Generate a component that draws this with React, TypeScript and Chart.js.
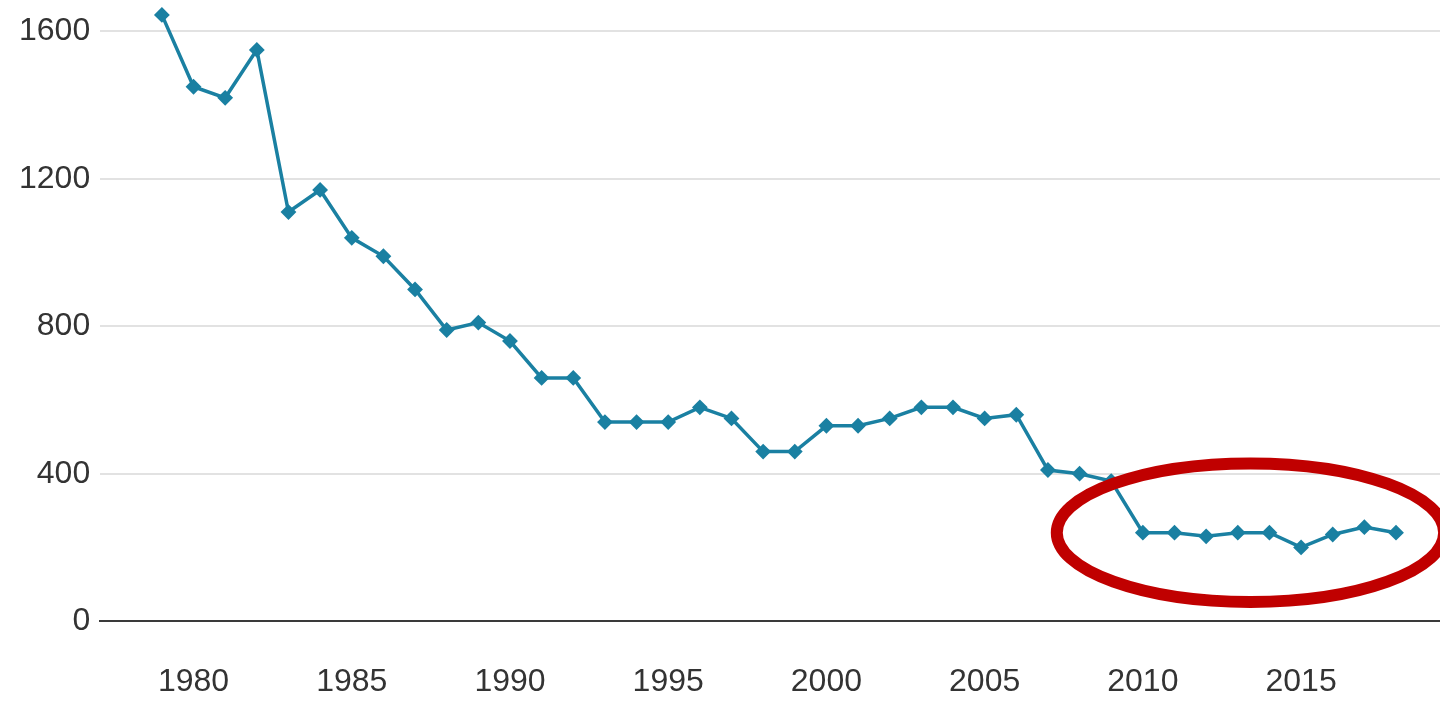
import React, { useEffect, useRef } from "react";
import { Chart, registerables } from "chart.js";

Chart.register(...registerables);

// ---- data ----
const years: number[] = [
  1979, 1980, 1981, 1982, 1983, 1984, 1985, 1986, 1987, 1988,
  1989, 1990, 1991, 1992, 1993, 1994, 1995, 1996, 1997, 1998,
  1999, 2000, 2001, 2002, 2003, 2004, 2005, 2006, 2007, 2008,
  2009, 2010, 2011, 2012, 2013, 2014, 2015, 2016, 2017, 2018,
];
const values: number[] = [
  1645, 1450, 1420, 1550, 1110, 1170, 1040, 990, 900, 790,
  810, 760, 660, 660, 540, 540, 540, 580, 550, 460,
  460, 530, 530, 550, 580, 580, 550, 560, 410, 400,
  380, 240, 240, 230, 240, 240, 200, 235, 255, 240,
];
const xTicks: number[] = [1980, 1985, 1990, 1995, 2000, 2005, 2010, 2015];
const yTicks: number[] = [0, 400, 800, 1200, 1600];
const xRange = { min: 1977.05, max: 2019.39 };
const yRange = { min: 0, max: 1680 };

// highlight ellipse, in data units
const highlight = { cx: 2013.4, cy: 240, rx: 6.12, ry: 188 };

const FONT = "'Liberation Sans', Arial, Helvetica, sans-serif";
const LINE = "#1a80a2";
const TEXT = "#333333";

const ellipsePlugin = {
  id: "highlightEllipse",
  afterDatasetsDraw(chart: any) {
    const { ctx, scales } = chart;
    const x = scales.x, y = scales.y;
    const cx = x.getPixelForValue(highlight.cx);
    const cy = y.getPixelForValue(highlight.cy);
    const rx = Math.abs(x.getPixelForValue(highlight.cx + highlight.rx) - cx);
    const ry = Math.abs(y.getPixelForValue(highlight.cy + highlight.ry) - cy);
    ctx.save();
    ctx.beginPath();
    ctx.ellipse(cx, cy, rx, ry, 0, 0, Math.PI * 2);
    ctx.strokeStyle = "#c00000";
    ctx.lineWidth = 12;
    ctx.stroke();
    ctx.restore();
  },
};

export default function App() {
  const ref = useRef<HTMLCanvasElement | null>(null);

  useEffect(() => {
    if (!ref.current) return;
    const chart = new Chart(ref.current, {
      type: "line",
      data: {
        datasets: [
          {
            data: years.map((yr, i) => ({ x: yr, y: values[i] })),
            borderColor: LINE,
            backgroundColor: LINE,
            borderWidth: 3.5,
            pointStyle: "rectRot",
            pointRadius: 6.5,
            pointBorderWidth: 2,
            pointBackgroundColor: LINE,
            pointBorderColor: LINE,
            tension: 0,
            clip: false,
          } as any,
        ],
      },
      options: {
        responsive: false,
        animation: false,
        layout: { autoPadding: false, padding: { left: 9, top: 2, right: 0, bottom: -41.5 } },
        plugins: {
          legend: { display: false },
          tooltip: { enabled: false },
        },
        scales: {
          x: {
            type: "linear",
            min: xRange.min,
            max: xRange.max,
            grid: { display: false, drawTicks: false },
            border: { display: true, color: "#3a3a3a", width: 2 },
            ticks: {
              padding: 41.5,
              color: TEXT,
              font: { family: FONT, size: 32 },
              maxRotation: 0,
              autoSkip: false,
              callback: (v: any) => String(v),
            },
            afterBuildTicks: (s: any) => {
              s.ticks = xTicks.map((v) => ({ value: v }));
            },
            afterFit: (s: any) => {
              s.paddingLeft = 0;
              s.paddingRight = 0;
            },
          },
          y: {
            type: "linear",
            min: yRange.min,
            max: yRange.max,
            grid: {
              drawTicks: false,
              lineWidth: 2,
              color: (c: any) => (c.tick && c.tick.value === 0 ? "#3a3a3a" : "#e2e2e2"),
            },
            border: { display: false },
            ticks: {
              padding: 10,
              color: TEXT,
              font: { family: FONT, size: 32 },
              autoSkip: false,
              callback: (v: any) => String(v),
            },
            afterBuildTicks: (s: any) => {
              s.ticks = yTicks.map((v) => ({ value: v }));
            },
            afterFit: (s: any) => {
              s.paddingTop = 0;
              s.paddingBottom = 0;
            },
          },
        },
      },
      plugins: [ellipsePlugin],
    });
    return () => chart.destroy();
  }, []);

  return (
    <div style={{ position: "fixed", left: 0, top: 0, width: 1440, height: 701, background: "#ffffff" }}>
      <canvas ref={ref} width={1440} height={701} style={{ display: "block" }} />
    </div>
  );
}
